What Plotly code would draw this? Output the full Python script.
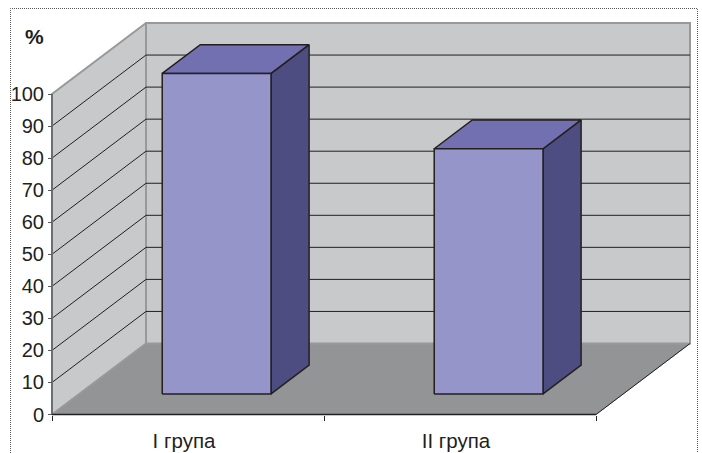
import plotly.graph_objects as go

# Chart data
categories = ["I група", "II група"]
values = [100, 76.5]
y_ticks = list(range(0, 101, 10))

# Page size and where the value and category scales sit on it (pixels)
PAGE_W, PAGE_H = 702, 453
ORIGIN_X, ORIGIN_Y = 52, 414.5
CATEGORY_PX = 272
VALUE_PX = 3.205

# Pseudo-3D projection, in axis units
DEPTH_X = 94 / CATEGORY_PX   # horizontal shift of the back wall (category widths)
DEPTH_Y = 71 / VALUE_PX      # vertical shift of the back wall (value units)
BAR_GAP = 0.305              # space before a bar inside its category
BAR_WIDTH = 0.40
BAR_NEAR = 0.29              # depth of the bar's front face
BAR_FAR = 0.695              # depth of the bar's back face

WALL = "#c8c9cb"
WALL_EDGE = "#98999b"
FLOOR = "#939496"
BAR_FRONT = "#9595c9"
BAR_TOP = "#7270b0"
BAR_SIDE = "#4e4d82"
INK = "#231f20"
AXIS_GREY = "#6d6e70"
FONT = "Liberation Sans, Arial, sans-serif"


def project(x, v, depth):
    return x + depth * DEPTH_X, v + depth * DEPTH_Y


def polygon(points, fill, line_color, line_width=1.0):
    xs, ys = zip(*[project(*p) for p in points])
    return go.Scatter(
        x=list(xs) + [xs[0]], y=list(ys) + [ys[0]],
        mode="lines", fill="toself", fillcolor=fill,
        line=dict(color=line_color, width=line_width),
        hoverinfo="skip", showlegend=False,
    )


def polyline(points, color, width=1.0):
    xs, ys = zip(*[project(*p) for p in points])
    return go.Scatter(
        x=list(xs), y=list(ys), mode="lines",
        line=dict(color=color, width=width),
        hoverinfo="skip", showlegend=False,
    )


fig = go.Figure()
n = len(categories)
top = y_ticks[-1]

# Floor and the two walls
fig.add_trace(polygon([(0, 0, 0), (n, 0, 0), (n, 0, 1), (0, 0, 1)], FLOOR, FLOOR))
fig.add_trace(polygon([(0, 0, 1), (n, 0, 1), (n, top, 1), (0, top, 1)], WALL, WALL_EDGE, 2))
fig.add_trace(polygon([(0, 0, 0), (0, 0, 1), (0, top, 1), (0, top, 0)], WALL, WALL_EDGE, 2))
fig.add_trace(polyline([(n, 0, 0), (n, 0, 1)], INK, 1))

# Gridlines run along the side wall, then across the back wall
for tick in y_ticks[1:-1]:
    fig.add_trace(polyline([(0, tick, 0), (0, tick, 1), (n, tick, 1)], INK, 1))

# One box per category
for i, value in enumerate(values):
    x0 = i + BAR_GAP
    x1 = x0 + BAR_WIDTH
    fig.add_trace(polygon(
        [(x1, 0, BAR_NEAR), (x1, 0, BAR_FAR), (x1, value, BAR_FAR), (x1, value, BAR_NEAR)],
        BAR_SIDE, INK, 1.5))
    fig.add_trace(polygon(
        [(x0, value, BAR_NEAR), (x1, value, BAR_NEAR), (x1, value, BAR_FAR), (x0, value, BAR_FAR)],
        BAR_TOP, INK, 1.5))
    fig.add_trace(polygon(
        [(x0, 0, BAR_NEAR), (x1, 0, BAR_NEAR), (x1, value, BAR_NEAR), (x0, value, BAR_NEAR)],
        BAR_FRONT, INK, 1.5))

# Front axis lines
fig.add_trace(polyline([(0, 0, 0), (0, top, 0)], AXIS_GREY, 2))
fig.add_trace(polyline([(0, 0, 0), (n, 0, 0)], INK, 1.5))

fig.update_layout(
    width=PAGE_W, height=PAGE_H,
    margin=dict(l=0, r=0, t=0, b=0, pad=0),
    paper_bgcolor="white", plot_bgcolor="rgba(0,0,0,0)",
    font=dict(family=FONT, color=INK),
    # The axes span the whole page so the walls can extend past the value range;
    # they are anchored at the chart origin.
    xaxis=dict(
        range=[-ORIGIN_X / CATEGORY_PX, (PAGE_W - ORIGIN_X) / CATEGORY_PX],
        domain=[0, 1], anchor="free", position=(PAGE_H - ORIGIN_Y) / PAGE_H,
        automargin=False, showgrid=False, zeroline=False, fixedrange=True, showline=False,
        tickmode="array",
        tickvals=[i + 0.5 for i in range(n)], ticktext=categories,
        ticks="", tickfont=dict(size=20.5, family=FONT, color=INK),
        ticklabelstandoff=12, ticklabelshift=-4,
        minor=dict(tickmode="array", tickvals=list(range(n + 1)),
                   ticks="outside", ticklen=5, tickwidth=1, tickcolor=INK),
    ),
    yaxis=dict(
        range=[-(PAGE_H - ORIGIN_Y) / VALUE_PX, ORIGIN_Y / VALUE_PX],
        domain=[0, 1], anchor="free", position=ORIGIN_X / PAGE_W,
        automargin=False, showgrid=False, zeroline=False, fixedrange=True, showline=False,
        tickmode="array", tickvals=y_ticks,
        ticks="outside", ticklen=4, tickwidth=1, tickcolor="#58595b",
        tickfont=dict(size=20, family=FONT, color=INK),
    ),
    annotations=[dict(
        text="<b>%</b>", xref="paper", yref="paper",
        x=34 / PAGE_W, y=1 - 37 / PAGE_H, xanchor="center", yanchor="middle",
        showarrow=False, font=dict(size=21, family=FONT, color=INK),
    )],
    # Dotted frame around the chart area, open along the bottom of the page
    shapes=[dict(
        type="path", xref="paper", yref="paper",
        path=f"M {10.5 / PAGE_W} 0 L {10.5 / PAGE_W} {1 - 8.5 / PAGE_H} "
             f"L {697.5 / PAGE_W} {1 - 8.5 / PAGE_H} L {697.5 / PAGE_W} 0",
        line=dict(color="#58595b", width=1, dash="1px,1px"),
    )],
)

fig.write_html("out.html")
